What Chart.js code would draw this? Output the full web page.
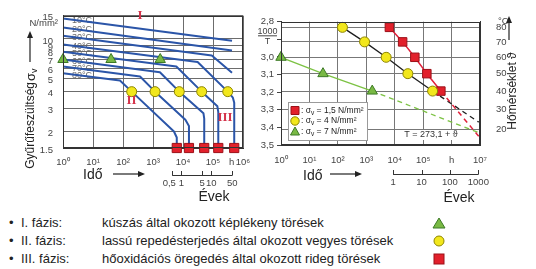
<!DOCTYPE html>
<html lang="hu">
<head>
<meta charset="utf-8">
<title>Élettartam</title>
<script src="https://cdn.jsdelivr.net/npm/chart.js@4.4.1/dist/chart.umd.min.js"></script>
<style>
  html, body { margin: 0; padding: 0; background: #fff; }
  body { position: relative; width: 536px; height: 269px; overflow: hidden;
         font-family: "Liberation Sans", Arial, sans-serif; color: #222; }
  canvas { position: absolute; top: 0; }
  #left { left: 0; }
  #right { left: 240px; }
  .row { position: absolute; left: 0; width: 536px; height: 16px; line-height: 16px; font-size: 13px; white-space: nowrap; }
  .row span, .row svg { position: absolute; }
</style>
</head>
<body>
<canvas id="left" width="262" height="210"></canvas>
<canvas id="right" width="296" height="210"></canvas>
<div id="phases"></div>
<script>
// ---- left chart: stress vs. time, one curve per temperature ----
const curveLabels = ['10°C', '20°C', '30°C', '40°C', '50°C', '60°C', '70°C', '80°C'];
const curveHours = [
  [1, 4.3e5],
  [1, 4.3e5],
  [1, 9.1e4, 4.3e5],
  [1, 3.07e4, 3.1e5, 4.6e5, 5.1e5, 5.1e5],
  [1, 6.0e3, 4.2e4, 1.4e5, 1.5e5, 1.5e5],
  [1, 1.7e3, 7.5e3, 4.8e4, 5.1e4, 5.1e4],
  [1, 370, 1170, 1.2e4, 1.58e4, 1.58e4],
  [1, 79, 195, 5.0e3, 6.2e3, 6.2e3]
];
const curveStress = [
  [14.3, 9.7],
  [12.2, 8.2],
  [10.6, 7.5, 5.55],
  [9.1, 6.7, 4, 3.6, 3.3, 1.5],
  [8.0, 6.2, 4, 3.1, 2.8, 1.5],
  [7.0, 5.6, 4, 2.75, 2.5, 1.5],
  [6.2, 5.2, 4, 2.45, 2.2, 1.5],
  [5.5, 4.85, 4, 2.0, 1.8, 1.5]
];
const greenStress = 7, yellowStress = 4, redStress = 1.5;
const greenHoursL = [1, 40, 1740];
const yellowHoursL = [195, 1170, 7500, 4.2e4, 3.1e5];
const redHoursL = [6.2e3, 1.58e4, 5.1e4, 1.5e5, 5.1e5];
const stressTicks = [1.5, 2, 3, 4, 5, 6, 7, 8, 9, 10, 15];
const decadesL = [1, 10, 100, 1e3, 1e4, 1e5, 1e6];
const yearTicksL = [0.5, 1, 5, 10, 50];

// ---- right chart: 1000/T vs. time ----
const decadesR = [1, 10, 100, 1e3, 1e4, 1e5, 1e6, 1e7];
const invTTicks = [2.8, 2.9, 3.0, 3.1, 3.2, 3.3, 3.4, 3.5];
const tempTicks = [80, 70, 60, 50, 40, 30, 20];
const redTemps = [80, 70, 60, 50, 40];
const redHoursR = [6.5e3, 1.9e4, 5.1e4, 1.35e5, 4.2e5];
const yellowTemps = [80, 70, 60, 50, 40];
const yellowHoursR = [145, 870, 5.0e3, 2.9e4, 2.15e5];
const greenTemps = [60, 50, 40];
const greenHoursR = [1, 30, 1620];
// where the dashed extrapolations leave the frame: [hours, 1000/T]
const redTail = [9e6, 3.45];
const yellowTail = [9e6, 3.37];
const greenTail = [9e6, 3.43];
const yearTicksR = [1, 10, 100, 1000];

const phaseLabels = ['I. fázis:', 'II. fázis:', 'III. fázis:'];
const phaseTexts = [
  'kúszás által okozott képlékeny törések',
  'lassú repedésterjedés által okozott vegyes törések',
  'hőoxidációs öregedés által okozott rideg törések'
];

const HOURS_PER_YEAR = 8760;
const invT = t => 1000 / (273.1 + t);   // T = 273,1 + θ
const SUP = ['⁰', '¹', '²', '³', '⁴', '⁵', '⁶', '⁷'];
const pow10 = v => '10' + SUP[Math.round(Math.log10(v))];
const comma = v => String(v).replace('.', ',');

const FONT = '"Liberation Sans", Arial, sans-serif';
const tickFont = { family: FONT, size: 9.5 };
const tickColor = '#444';
const BLUE = '#2b55a8';
const GREEN = '#79b944', GREEN_D = '#3d7a26';
const YELLOW = '#f2e71c', YELLOW_D = '#8d8500';
const RED = '#e2202b', RED_D = '#9c1018';

Chart.defaults.font.family = FONT;

function markerSet(points, style, fill, edge, r) {
  return { data: points, pointStyle: style, pointRadius: r, pointBackgroundColor: fill,
           pointBorderColor: edge, pointBorderWidth: 1, showLine: false, clip: false };
}
function lineSet(points, color, width, dash) {
  return { data: points, borderColor: color, borderWidth: width, borderDash: dash || [],
           pointRadius: 0, showLine: true, tension: 0, borderJoinStyle: 'round', clip: false };
}
function txt(ctx, s, x, y, font, color, align) {
  ctx.font = font; ctx.fillStyle = color || '#222';
  ctx.textAlign = align || 'center'; ctx.textBaseline = 'middle';
  ctx.fillText(s, x, y);
}
function arrow(ctx, x1, y1, x2, y2) {
  const a = Math.atan2(y2 - y1, x2 - x1);
  ctx.beginPath(); ctx.moveTo(x1, y1);
  ctx.lineTo(x2 - 5 * Math.cos(a), y2 - 5 * Math.sin(a)); ctx.stroke();
  ctx.beginPath(); ctx.moveTo(x2, y2);
  ctx.lineTo(x2 - 7 * Math.cos(a) + 3 * Math.sin(a), y2 - 7 * Math.sin(a) - 3 * Math.cos(a));
  ctx.lineTo(x2 - 7 * Math.cos(a) - 3 * Math.sin(a), y2 - 7 * Math.sin(a) + 3 * Math.cos(a));
  ctx.closePath(); ctx.fill();
}
function yearRuler(ctx, xs, years, y, firstShift) {
  const px = years.map(v => xs.getPixelForValue(v * HOURS_PER_YEAR));
  ctx.strokeStyle = '#333'; ctx.lineWidth = 1;
  ctx.beginPath(); ctx.moveTo(px[0], y + 0.5); ctx.lineTo(px[px.length - 1], y + 0.5);
  px.forEach(p => { ctx.moveTo(Math.round(p) + 0.5, y + 0.5); ctx.lineTo(Math.round(p) + 0.5, y - 4); });
  ctx.stroke();
  years.forEach((v, i) => txt(ctx, comma(v), px[i] - (i === 0 ? firstShift : 0), y + 8.5, '9.5px ' + FONT, '#444'));
}

// ---------------- left chart ----------------
const leftExtras = {
  id: 'leftExtras',
  beforeDatasetsDraw(chart) {
    const ctx = chart.ctx, ys = chart.scales.y;
    curveLabels.forEach((l, i) => {
      txt(ctx, l, 82, ys.getPixelForValue(curveStress[i][0]) + 2, '9px ' + FONT, '#6a6a6a');
    });
  },
  afterDraw(chart) {
    const ctx = chart.ctx, a = chart.chartArea, xs = chart.scales.x;
    ctx.save();
    ctx.strokeStyle = '#333'; ctx.lineWidth = 1;
    ctx.strokeRect(Math.round(a.left) + 0.5, Math.round(a.top) + 0.5,
                   Math.round(a.right - a.left) - 1, Math.round(a.bottom - a.top) - 1);
    const roman = 'bold 13px "Liberation Serif", serif';
    txt(ctx, 'I', 140, 16, roman, '#d4344b');
    txt(ctx, 'II', 131.5, 101, roman, '#d4344b');
    txt(ctx, 'III', 225, 118, roman, '#d4344b');
    txt(ctx, 'N/mm²', 58, 23.5, '9.5px ' + FONT, '#444', 'right');
    txt(ctx, 'h', xs.getPixelForValue(4.2e5), 162, '9.5px ' + FONT, '#444');

    // y title with arrow
    ctx.fillStyle = '#222'; ctx.strokeStyle = '#222'; ctx.lineWidth = 1.2;
    arrow(ctx, 30, 62, 30, 31);
    ctx.font = '12px ' + FONT;
    const w1 = ctx.measureText('Gyűrűfeszültség').width;
    ctx.font = '13px ' + FONT;
    const w2 = ctx.measureText('σ').width;
    ctx.translate(31, 68 + w1 + w2 + 6);
    ctx.rotate(-Math.PI / 2);
    txt(ctx, 'Gyűrűfeszültség', 0, 0, '12px ' + FONT, '#222', 'left');
    txt(ctx, 'σ', w1 + 1, 0, '13px ' + FONT, '#222', 'left');
    txt(ctx, 'v', w1 + 1 + w2, 4, '9px ' + FONT, '#222', 'left');
    ctx.setTransform(1, 0, 0, 1, 0, 0);

    // time axis extras
    txt(ctx, 'Idő', 83, 175, '14px ' + FONT, '#222', 'left');
    ctx.fillStyle = '#222'; ctx.strokeStyle = '#222'; ctx.lineWidth = 1.2;
    arrow(ctx, 113, 174, 145, 174);
    yearRuler(ctx, xs, yearTicksL, 175, 3);
    txt(ctx, 'Évek', 214, 197, '14px ' + FONT, '#222');
    ctx.restore();
  }
};

const leftData = [
  markerSet(greenHoursL.map(h => ({ x: h, y: greenStress })), 'triangle', GREEN, GREEN_D, 6),
  markerSet(yellowHoursL.map(h => ({ x: h, y: yellowStress })), 'circle', YELLOW, YELLOW_D, 5),
  markerSet(redHoursL.map(h => ({ x: h, y: redStress })), 'rect', RED, RED_D, 6.5),
  ...curveHours.map((hs, i) => lineSet(hs.map((h, j) => ({ x: h, y: curveStress[i][j] })), BLUE, 2))
];

new Chart(document.getElementById('left'), {
  type: 'scatter',
  data: { datasets: leftData },
  plugins: [leftExtras],
  options: {
    responsive: false, animation: false, events: [],
    layout: { padding: { left: 0, top: 9, right: 19, bottom: 0 } },
    plugins: { legend: { display: false }, tooltip: { enabled: false } },
    scales: {
      x: {
        type: 'logarithmic', min: 1, max: 1e6,
        afterBuildTicks: s => { s.ticks = decadesL.map(v => ({ value: v })); },
        afterFit: s => { s.height = 62; },
        grid: { color: '#6c6c6c', drawTicks: false },
        border: { color: '#333' },
        ticks: { font: tickFont, color: tickColor, padding: 9, autoSkip: false, maxRotation: 0,
                 callback: v => pow10(v) }
      },
      y: {
        type: 'logarithmic', min: 1.5, max: 15,
        afterBuildTicks: s => { s.ticks = stressTicks.map(v => ({ value: v })); },
        afterFit: s => { s.width = 63; },
        grid: { color: '#6c6c6c', drawTicks: false },
        border: { color: '#333' },
        ticks: { font: tickFont, color: tickColor, padding: 10, autoSkip: false, labelOffset: 2,
                 callback: v => String(v) }
      }
    }
  }
});

// ---------------- right chart ----------------
const OX = 240;
const legendRows = [
  { style: 'rect', fill: RED, edge: RED_D, stress: redStress },
  { style: 'circle', fill: YELLOW, edge: YELLOW_D, stress: yellowStress },
  { style: 'triangle', fill: GREEN, edge: GREEN_D, stress: greenStress }
];
function drawMark(ctx, style, x, y, fill, edge) {
  ctx.fillStyle = fill; ctx.strokeStyle = edge; ctx.lineWidth = 1;
  ctx.beginPath();
  if (style === 'rect') ctx.rect(x - 4, y - 4, 8, 8);
  else if (style === 'circle') ctx.arc(x, y, 4.2, 0, Math.PI * 2);
  else { ctx.moveTo(x, y - 4.5); ctx.lineTo(x + 4.5, y + 3.5); ctx.lineTo(x - 4.5, y + 3.5); ctx.closePath(); }
  ctx.fill(); ctx.stroke();
}

const rightExtras = {
  id: 'rightExtras',
  afterDraw(chart) {
    const ctx = chart.ctx, a = chart.chartArea, xs = chart.scales.x, ys = chart.scales.y;
    ctx.save();
    ctx.strokeStyle = '#333'; ctx.lineWidth = 1;
    ctx.strokeRect(Math.round(a.left) + 0.5, Math.round(a.top) + 0.5,
                   Math.round(a.right - a.left) - 1, Math.round(a.bottom - a.top) - 1);

    // legend box
    ctx.fillStyle = '#fff'; ctx.strokeStyle = '#9a9a9a';
    ctx.fillRect(288 - OX, 102, 79, 38);
    ctx.strokeRect(288.5 - OX, 102.5, 79, 38);
    legendRows.forEach((r, i) => {
      const y = 110.5 + i * 10.5;
      drawMark(ctx, r.style, 295 - OX, y, r.fill, r.edge);
      let x = 301 - OX;
      const f = '8.5px ' + FONT;
      txt(ctx, ': σ', x, y, f, '#222', 'left');
      x += ctx.measureText(': σ').width;
      txt(ctx, 'v', x, y + 2.5, '6.5px ' + FONT, '#222', 'left');
      x += ctx.measureText('v').width;
      txt(ctx, ' = ' + comma(r.stress) + ' N/mm²', x, y, f, '#222', 'left');
    });

    // T = 273,1 + θ
    ctx.font = '9px ' + FONT;
    const s = 'T = 273,1 + ϑ';
    const w = ctx.measureText(s).width;
    ctx.fillStyle = '#fff';
    ctx.fillRect(431 - OX - w / 2 - 2, 130, w + 4, 10);
    txt(ctx, s, 431 - OX, 135, '9px ' + FONT, '#333');

    // 1000/T in place of the 2,9 tick
    const p = ys.getPixelForValue(2.9);
    txt(ctx, '1000', 267.5 - OX, p - 8, '9px ' + FONT, '#444');
    ctx.strokeStyle = '#444';
    ctx.beginPath(); ctx.moveTo(258 - OX, p - 3.5); ctx.lineTo(277 - OX, p - 3.5); ctx.stroke();
    txt(ctx, 'T', 267.5 - OX, p + 2, '9px ' + FONT, '#444');

    txt(ctx, '°C', 498 - OX, 21.5, '9.5px ' + FONT, '#444', 'left');

    // right title with arrow
    ctx.fillStyle = '#222'; ctx.strokeStyle = '#222'; ctx.lineWidth = 1.2;
    arrow(ctx, 509 - OX, 40, 509 - OX, 16);
    ctx.translate(512.7 - OX, 91);
    ctx.rotate(-Math.PI / 2);
    txt(ctx, 'Hőmérséklet ϑ', 0, 0, '12px ' + FONT, '#222');
    ctx.setTransform(1, 0, 0, 1, 0, 0);

    // time axis extras
    txt(ctx, 'Idő', 303 - OX, 176, '14px ' + FONT, '#222', 'left');
    ctx.fillStyle = '#222'; ctx.strokeStyle = '#222'; ctx.lineWidth = 1.2;
    arrow(ctx, 330 - OX, 174, 362 - OX, 174);
    yearRuler(ctx, xs, yearTicksR, 174, 0);
    txt(ctx, 'Évek', 459 - OX, 198, '14px ' + FONT, '#222');
    ctx.restore();
  }
};

const toPts = (hours, temps) => hours.map((h, i) => ({ x: h, y: invT(temps[i]) }));
const lastOf = arr => arr[arr.length - 1];
const rightData = [
  markerSet(toPts(greenHoursR, greenTemps), 'triangle', GREEN, GREEN_D, 6),
  markerSet(toPts(yellowHoursR, yellowTemps), 'circle', YELLOW, YELLOW_D, 5),
  markerSet(toPts(redHoursR, redTemps), 'rect', RED, RED_D, 6),
  lineSet(toPts(redHoursR, redTemps), '#e0203a', 1.5),
  lineSet(toPts(yellowHoursR, yellowTemps), '#1e1e1e', 1.3),
  lineSet(toPts(greenHoursR, greenTemps), '#7cc243', 1.3),
  lineSet([lastOf(toPts(redHoursR, redTemps)), { x: redTail[0], y: redTail[1] }], '#e0203a', 1.5, [5, 4]),
  lineSet([lastOf(toPts(yellowHoursR, yellowTemps)), { x: yellowTail[0], y: yellowTail[1] }], '#1e1e1e', 1.3, [5, 4]),
  lineSet([lastOf(toPts(greenHoursR, greenTemps)), { x: greenTail[0], y: greenTail[1] }], '#7cc243', 1.3, [5, 4])
];

new Chart(document.getElementById('right'), {
  type: 'scatter',
  data: { datasets: rightData },
  plugins: [rightExtras],
  options: {
    responsive: false, animation: false, events: [],
    layout: { padding: { left: 0, top: 8, right: 0, bottom: 0 } },
    plugins: { legend: { display: false }, tooltip: { enabled: false } },
    scales: {
      x: {
        type: 'logarithmic', min: 1, max: 1e7,
        afterBuildTicks: s => { s.ticks = decadesR.map(v => ({ value: v })); },
        afterFit: s => { s.height = 65; },
        grid: { color: '#777', drawTicks: false },
        border: { color: '#333' },
        ticks: { font: tickFont, color: tickColor, padding: 10, autoSkip: false, maxRotation: 0,
                 callback: v => (v === 1e6 ? 'h' : pow10(v)) }
      },
      y: {
        type: 'linear', position: 'left', min: 2.8, max: 3.5, reverse: true,
        afterBuildTicks: s => { s.ticks = invTTicks.map(v => ({ value: v })); },
        afterFit: s => { s.width = 41; },
        grid: { drawOnChartArea: false, drawTicks: true, tickLength: 4, tickColor: '#444' },
        border: { color: '#333' },
        ticks: { font: tickFont, color: tickColor, padding: 3, autoSkip: false,
                 callback: v => (Math.abs(v - 2.9) < 1e-6 ? '' : comma(v.toFixed(1))) }
      },
      y2: {
        type: 'linear', position: 'right', min: 2.8, max: 3.5, reverse: true,
        afterBuildTicks: s => { s.ticks = tempTicks.map(t => ({ value: invT(t) })); },
        afterFit: s => { s.width = 56; },
        grid: { color: '#777', drawTicks: false },
        border: { color: '#333' },
        ticks: { font: tickFont, color: tickColor, padding: 16, autoSkip: false,
                 callback: (v, i) => String(tempTicks[i]) }
      }
    }
  }
});

// ---------------- phase legend below ----------------
const phaseMarks = [
  '<svg width="14" height="12" style="left:432px;top:2px"><polygon points="7,1 13,11 1,11" fill="' + GREEN + '" stroke="' + GREEN_D + '"/></svg>',
  '<svg width="14" height="12" style="left:432px;top:2px"><circle cx="7" cy="6" r="5" fill="' + YELLOW + '" stroke="' + YELLOW_D + '"/></svg>',
  '<svg width="14" height="12" style="left:432px;top:2px"><rect x="2" y="1" width="10" height="10" fill="' + RED + '" stroke="' + RED_D + '"/></svg>'
];
const holder = document.getElementById('phases');
phaseLabels.forEach((l, i) => {
  const row = document.createElement('div');
  row.className = 'row';
  row.style.top = (214.7 + i * 18.3) + 'px';
  row.innerHTML = '<span style="left:9px">•</span><span style="left:21px">' + l + '</span>' +
                  '<span style="left:102px">' + phaseTexts[i] + '</span>' + phaseMarks[i];
  holder.appendChild(row);
});
</script>
</body>
</html>
